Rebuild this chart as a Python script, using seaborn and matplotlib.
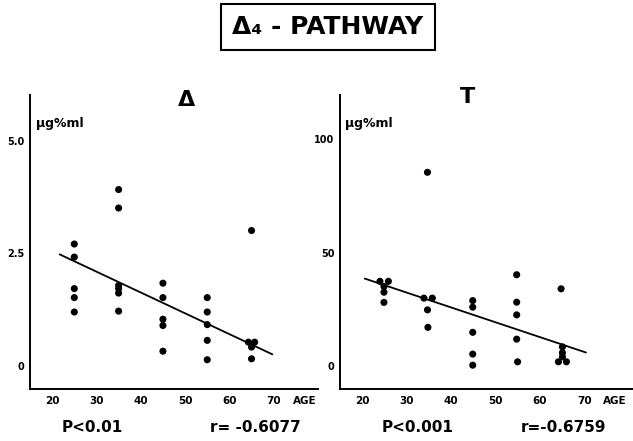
import matplotlib
matplotlib.use("Agg")
import matplotlib.pyplot as plt
import seaborn as sns
import pandas as pd

sns.set_theme(style="white")
plt.rcParams['font.family'] = ['DejaVu Sans']
plt.rcParams['font.weight'] = 'bold'
plt.rcParams['text.color'] = 'black'
plt.rcParams['xtick.color'] = 'black'
plt.rcParams['ytick.color'] = 'black'
plt.rcParams['axes.labelcolor'] = 'black'

# ---- data ----
age_A = [25, 25, 25, 25, 25,
         35, 35, 35, 35, 35, 35,
         45, 45, 45, 45, 45,
         55, 55, 55, 55, 55,
         65, 64.3, 65.7, 65, 65]
val_A = [2.71, 2.42, 1.72, 1.52, 1.20,
         3.92, 3.51, 1.79, 1.72, 1.62, 1.22,
         1.84, 1.52, 1.04, 0.90, 0.33,
         1.52, 1.20, 0.92, 0.57, 0.14,
         3.01, 0.53, 0.53, 0.42, 0.16]
fit_age_A = [21.7, 69.7]
fit_val_A = [2.48, 0.26]

age_T = [24.0, 25.9, 24.9, 24.9, 24.9,
         33.9, 35.8, 34.7, 34.8, 34.7,
         44.9, 44.9, 44.9, 44.9, 44.9,
         54.8, 54.8, 54.8, 54.8, 55.0,
         64.8, 65.1, 65.1, 64.2, 66.0, 65.1]
val_T = [37.3, 37.3, 35.0, 32.5, 28.0,
         29.9, 29.9, 24.7, 17.0, 85.4,
         28.8, 25.9, 14.8, 5.2, 0.3,
         40.2, 28.1, 22.5, 11.8, 1.8,
         34.0, 8.4, 5.8, 1.8, 1.8, 4.0]
fit_age_T = [20.6, 70.4]
fit_val_T = [38.5, 5.9]

x_ticks = [20, 30, 40, 50, 60, 70]
y_ticks_A = [0, 2.5, 5.0]
y_labels_A = ["0", "2.5", "5.0"]
y_ticks_T = [0, 50, 100]
y_labels_T = ["0", "50", "100"]

titles = ["Δ", "T"]
unit_label = "µg%ml"
stats = [("P<0.01", "r= -0.6077"), ("P<0.001", "r=-0.6759")]
main_title = "Δ₄ - PATHWAY"

W, H = 633, 441
fig = plt.figure(figsize=(W / 100, H / 100), dpi=100)

def frac(x0, y_top, x1, y_bot):
    return [x0 / W, 1 - y_bot / H, (x1 - x0) / W, (y_bot - y_top) / H]

axA = fig.add_axes(frac(30, 95, 318, 389))
axT = fig.add_axes(frac(340, 95, 633, 389))

panels = [
    (axA, age_A, val_A, fit_age_A, fit_val_A, y_ticks_A, y_labels_A, (-0.51, 6.02), (15, 80)),
    (axT, age_T, val_T, fit_age_T, fit_val_T, y_ticks_T, y_labels_T, (-10.2, 119.5), (15, 81)),
]

for i, (ax, ages, vals, fa, fv, yt, yl, ylim, xlim) in enumerate(panels):
    df = pd.DataFrame({"age": ages, "val": vals})
    fit = pd.DataFrame({"age": fa, "val": fv})
    sns.lineplot(data=fit, x="age", y="val", ax=ax, color="black", lw=1.3)
    sns.scatterplot(data=df, x="age", y="val", ax=ax, color="black", s=26,
                    edgecolor="none", zorder=3)
    ax.set_xlim(*xlim)
    ax.set_ylim(*ylim)
    ax.set_xlabel("")
    ax.set_ylabel("")
    ax.set_xticks(x_ticks)
    ax.set_xticklabels([str(t) for t in x_ticks], fontsize=7.5, fontweight="bold")
    ax.set_yticks(yt)
    ax.set_yticklabels(yl, fontsize=7, fontweight="bold")
    ax.tick_params(axis="x", length=0, pad=5)
    ax.tick_params(axis="y", length=4, width=1, direction="inout", pad=2)
    for s in ["top", "right"]:
        ax.spines[s].set_visible(False)
    for s in ["left", "bottom"]:
        ax.spines[s].set_color("black")
        ax.spines[s].set_linewidth(1.4)
    ax.grid(False)
    ax.annotate("AGE", xy=(77.0, 0), xycoords=("data", "axes fraction"),
                xytext=(0, -5), textcoords="offset points",
                ha="center", va="top", fontsize=7.5, fontweight="bold",
                annotation_clip=False)

# panel titles and unit labels (pixel positions)
fig.text(187 / W, 1 - 100 / H, titles[0], ha="center", va="center", fontsize=16, fontweight="bold")
fig.text(468 / W, 1 - 97 / H, titles[1], ha="center", va="center", fontsize=16, fontweight="bold")
fig.text(36 / W, 1 - 124 / H, unit_label, ha="left", va="center", fontsize=9, fontweight="bold")
fig.text(345 / W, 1 - 124 / H, unit_label, ha="left", va="center", fontsize=9, fontweight="bold")

# stats text
for (x, s) in [(92, stats[0][0]), (255, stats[0][1]), (418, stats[1][0]), (563, stats[1][1])]:
    fig.text(x / W, 1 - 428 / H, s, ha="center", va="center", fontsize=11, fontweight="bold")

# boxed main title
fig.text(328 / W, 1 - 27 / H, main_title, ha="center", va="center", fontsize=18,
         fontweight="bold",
         bbox=dict(boxstyle="square,pad=0.45", fc="white", ec="black", lw=1.5))

fig.savefig("out.png", dpi=100, facecolor="white")
